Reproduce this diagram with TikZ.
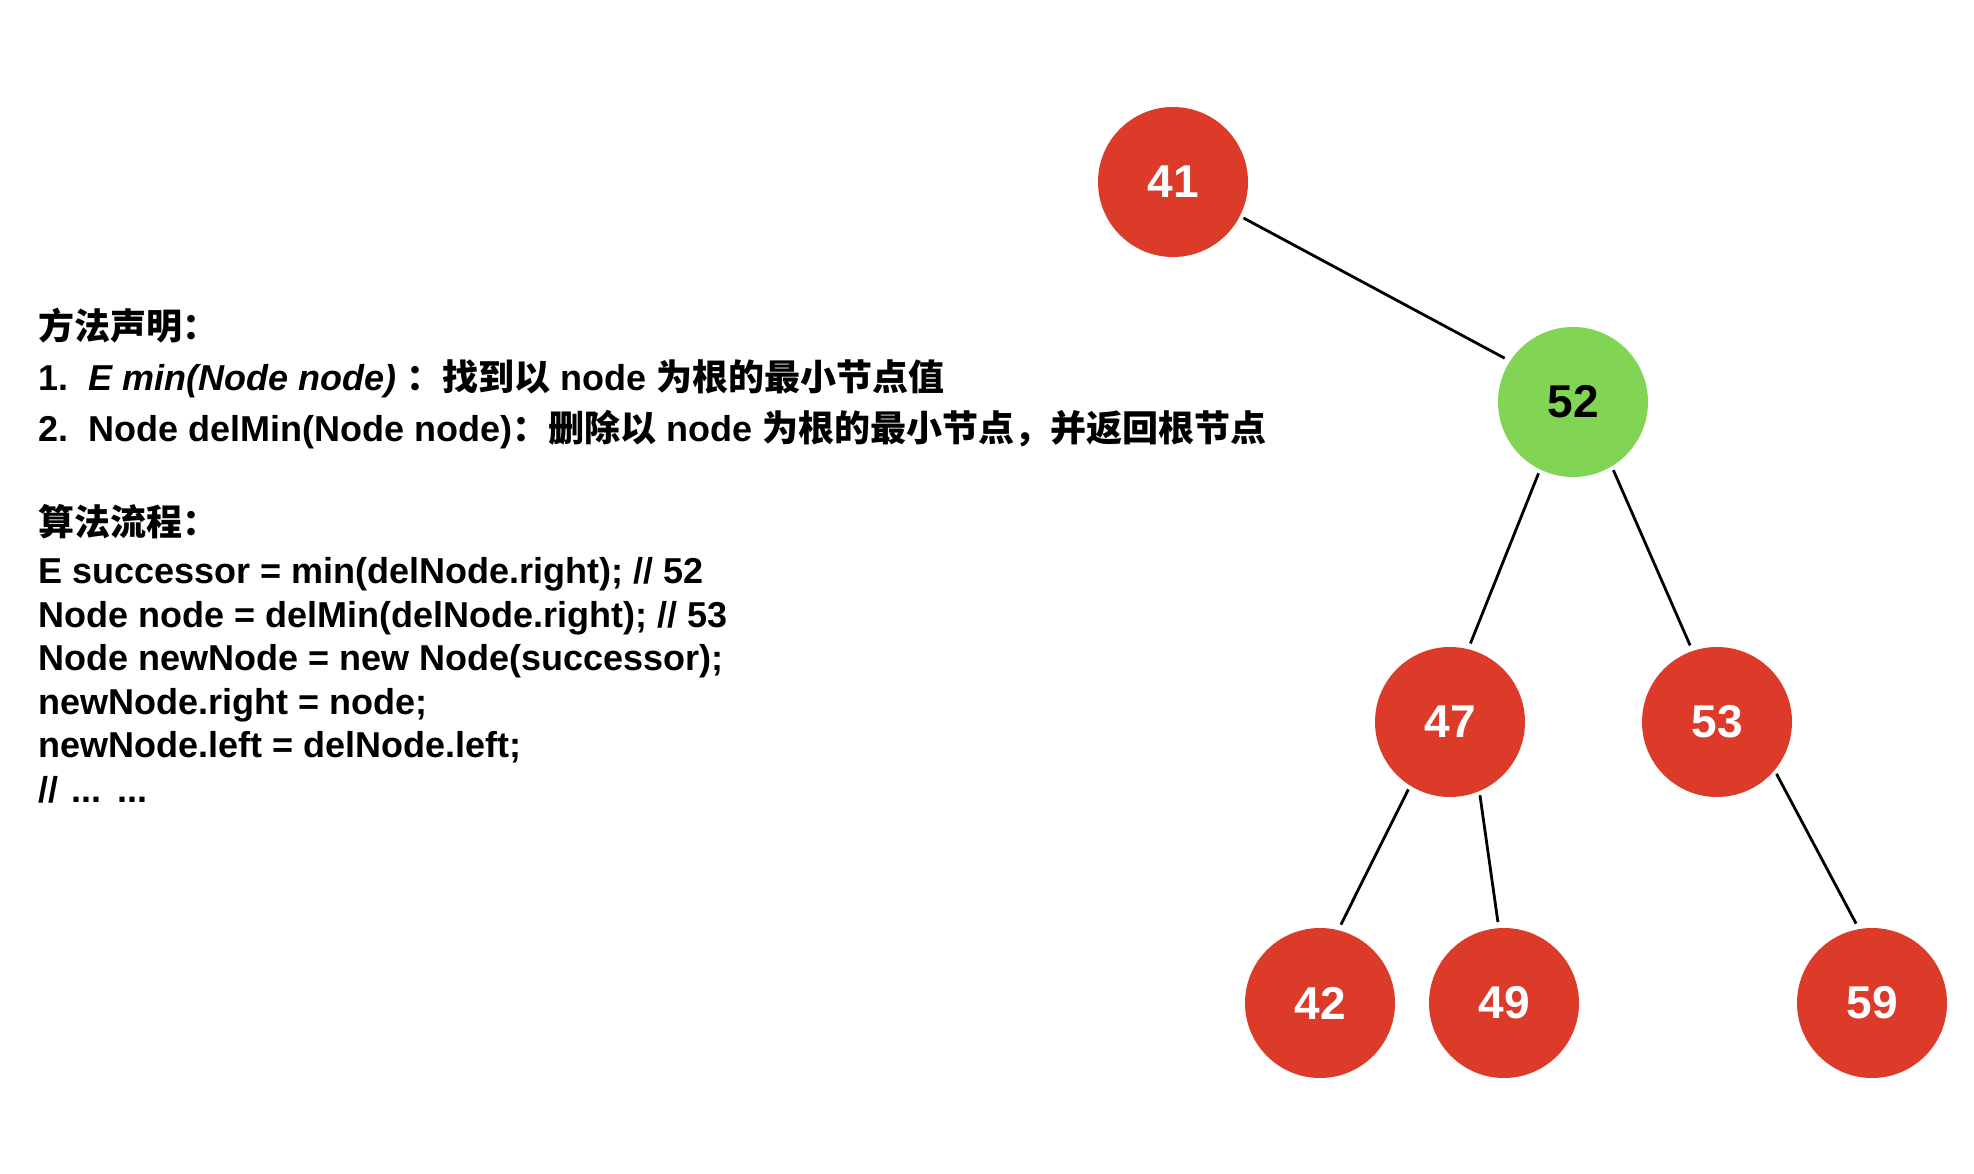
\documentclass[tikz,border=0pt]{standalone}
\usepackage{fontspec}
\setmainfont{Liberation Sans}
\newfontfamily\cjk{Noto Sans CJK SC}
\definecolor{nodered}{RGB}{219,59,40}
\definecolor{nodegreen}{RGB}{130,212,84}
\begin{document}
\begin{tikzpicture}[x=1pt,y=-1pt,
  rb/.style={circle, fill=nodered, minimum size=150pt, inner sep=0pt, text=white,
    font=\fontsize{46}{46}\selectfont\bfseries},
  gb/.style={rb, fill=nodegreen, text=black},
  edge/.style={line width=2.8pt, black, shorten <=4pt, shorten >=6pt},
  txt/.style={anchor=base west, inner sep=0pt, font=\fontsize{36}{42}\selectfont\bfseries}]
\useasboundingbox[fill=white] (0,0) rectangle (1974,1174);
% tree nodes
\node[rb] (n41) at (1173,182) {41};
\node[gb] (n52) at (1573,402) {52};
\node[rb] (n47) at (1450,722) {47};
\node[rb] (n53) at (1717,722) {53};
\node[rb] (n42) at (1320,1003) {42};
\node[rb] (n49) at (1504,1003) {49};
\node[rb] (n59) at (1872,1003) {59};
% edges
\draw[edge] (n41.-27) -- (n52.147);
\draw[edge] (n52.-116) -- (n47.76);
\draw[edge] (n52.-59) -- (n53.109);
\draw[edge] (n47.-122) -- (n42.76);
\draw[edge] (n47.-67) -- (n49.94);
\draw[edge] (n53.-40) -- (n59.100);
% text
\node[txt] (t1) at (38,340) {{\cjk 方法声明：}};
\node[txt] (t2) at (38,391) {\makebox[50pt][l]{1.}\textit{E min(Node node)} {\cjk ：找到以} node {\cjk 为根的最小节点值}};
\node[txt] (t3) at (38,441) {\makebox[50pt][l]{2.}Node delMin(Node node){\cjk ：删除以} node {\cjk 为根的最小节点，并返回根节点}};
\node[txt] (t4) at (38,535) {{\cjk 算法流程：}};
\node[txt] (t5) at (38,583) {E successor = min(delNode.right); // 52};
\node[txt] (t6) at (38,627) {Node node = delMin(delNode.right); // 53};
\node[txt] (t7) at (38,670) {Node newNode = new Node(successor);};
\node[txt] (t8) at (38,714) {newNode.right = node;};
\node[txt] (t9) at (38,757) {newNode.left = delNode.left;};
\node[txt] (t10) at (38,802) {//\hspace{3pt} ...\hspace{3pt} ...};
\end{tikzpicture}
\end{document}
